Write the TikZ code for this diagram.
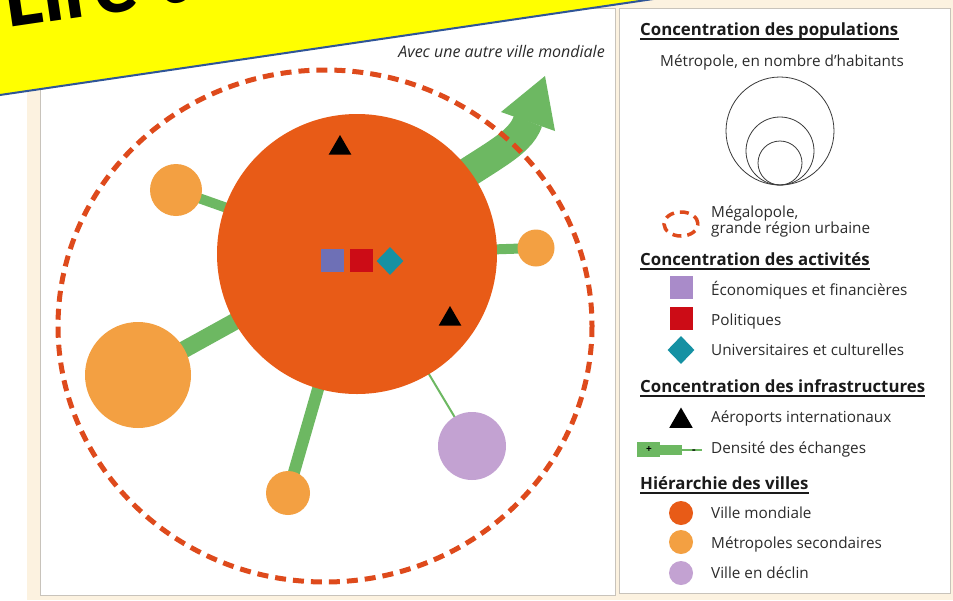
\documentclass[tikz,border=0pt]{standalone}
\usepackage{fontspec}
\setmainfont{Open Sans}
\newfontfamily\bannerfont{Carlito}
\usetikzlibrary{shapes.geometric}
\pgfdeclarelayer{bg}
\pgfdeclarelayer{back}
\pgfsetlayers{bg,back,main}
\definecolor{cream}{HTML}{FCF2E0}
\definecolor{panelline}{HTML}{C8C3BB}
\definecolor{mondial}{HTML}{E85B17}
\definecolor{megared}{HTML}{DE4A1C}
\definecolor{secorange}{HTML}{F3A042}
\definecolor{declin}{HTML}{C3A2D2}
\definecolor{linkgreen}{HTML}{6DB862}
\definecolor{ecoblue}{HTML}{6E70B6}
\definecolor{polred}{HTML}{CC0C16}
\definecolor{tealc}{HTML}{1591A3}
\definecolor{ecolegend}{HTML}{A98BC9}
\definecolor{textgray}{HTML}{2B2B2B}
\definecolor{titleblack}{HTML}{1A1A1A}
\definecolor{circgray}{HTML}{3A3A3A}
\definecolor{bannerblue}{HTML}{2F5597}
\definecolor{banneryellow}{HTML}{FFFF00}
\tikzset{
  city/.style={circle, inner sep=0pt, draw=none},
  mondiale/.style={city, fill=mondial},
  secondaire/.style={city, fill=secorange},
  declinstyle/.style={city, fill=declin},
  link/.style={draw=linkgreen, line cap=butt},
  legtext/.style={anchor=base west, inner sep=0pt, font=\fontsize{15.3}{17}\selectfont, text=textgray},
  legtitle/.style={anchor=base west, inner sep=0pt, font=\fontsize{16.8}{19}\selectfont\bfseries, text=titleblack},
  ul/.style={draw=titleblack, line width=1.2pt},
  airport/.style={regular polygon, regular polygon sides=3, fill=black, inner sep=0pt, minimum size=26pt},
  sq/.style={rectangle, inner sep=0pt, minimum size=23pt},
  dia/.style={diamond, inner sep=0pt, minimum width=27pt, minimum height=28pt, fill=tealc},
  megadash/.style={draw=megared, dash pattern=on 11pt off 7pt, line width=5pt},
}
\begin{document}
\begin{tikzpicture}[x=1pt,y=-1pt]
\useasboundingbox (0,0) rectangle (953,600);
\begin{pgfonlayer}{bg}
\fill[white] (0,0) rectangle (953,600);
\fill[cream] (27,0) rectangle (953,600);
\draw[panelline, fill=white, line width=0.8pt] (40,8) rectangle (615,595);
\draw[panelline, fill=white, line width=0.8pt] (619,8) rectangle (950,593);
\end{pgfonlayer}

% cities
\node[mondiale, minimum size=280pt] (main) at (357,254) {};
\node[secondaire, minimum size=52pt] (s1) at (176,190) {};
\node[secondaire, minimum size=37pt] (s2) at (536,248) {};
\node[secondaire, minimum size=106pt] (s3) at (138,375) {};
\node[secondaire, minimum size=44pt] (s4) at (288,493) {};
\node[declinstyle, minimum size=68pt] (d1) at (472,446) {};

\coordinate (arrowstart) at (440,192);
\coordinate (arrowbase) at (528,121);
\coordinate (arrowtip) at (545,76);
\coordinate (barbl) at (501,112);
\coordinate (barbr) at (555,131);

\begin{pgfonlayer}{back}
\draw[link, line width=10pt] (main.center) -- (s1.center);
\draw[link, line width=10pt] (main.center) -- (s2.center);
\draw[link, line width=17pt] (main.center) -- (s3.center);
\draw[link, line width=12pt] (main.center) -- (s4.center);
\draw[link, line width=2pt] (main.center) -- (d1.center);
\draw[linkgreen, line width=30pt] (arrowstart) .. controls (482,160) and (520,146) .. (arrowbase);
\fill[linkgreen] (barbl) -- (arrowtip) -- (barbr) -- cycle;
\end{pgfonlayer}

% activity symbols
\node[sq, fill=ecoblue] (eco) at (332,260) {};
\node[sq, fill=polred] (pol) at (361,260) {};
\node[dia] (uni) at (390,261) {};
\node[airport] (a1) at (340,148) {};
\node[airport] (a2) at (450,319) {};

% megalopolis
\draw[megadash] (325,326) ellipse [x radius=267, y radius=256];

\node[anchor=base east, inner sep=0pt, font=\fontsize{16}{18}\selectfont\itshape, text=textgray] (avec) at (605,57) {Avec une autre ville mondiale};

% legend
\node[legtitle] (t1) at (640,35) {Concentration des populations};
\draw[ul] ([yshift=-4pt]t1.base west) -- ([yshift=-4pt]t1.base east);
\node[legtext, anchor=base] (pop) at (782,66) {Métropole, en nombre d'habitants};
\draw[circgray, line width=0.8pt] (780,131) circle [radius=54];
\draw[circgray, line width=0.8pt] (780,151) circle [radius=34];
\draw[circgray, line width=0.8pt] (780,163) circle [radius=22];
\node[ellipse, draw=megared, line width=3.5pt, dash pattern=on 9pt off 6pt, minimum width=34pt, minimum height=24pt, inner sep=0pt] (lg-mega) at (681,224) {};
\node[legtext] (mega1) at (711,217) {Mégalopole,};
\node[legtext] (mega2) at (711,233) {grande région urbaine};

\node[legtitle] (t2) at (640,265) {Concentration des activités};
\draw[ul] ([yshift=-4pt]t2.base west) -- ([yshift=-4pt]t2.base east);
\node[sq, fill=ecolegend] (lg-eco) at (681,287) {};
\node[legtext] (eco-t) at (711,295) {Économiques et financières};
\node[sq, fill=polred] (lg-pol) at (681,318) {};
\node[legtext] (pol-t) at (711,325) {Politiques};
\node[dia] (lg-uni) at (681,350) {};
\node[legtext] (uni-t) at (711,355) {Universitaires et culturelles};

\node[legtitle] (t3) at (640,392) {Concentration des infrastructures};
\draw[ul] ([yshift=-4pt]t3.base west) -- ([yshift=-4pt]t3.base east);
\node[airport, minimum size=27pt] (lg-air) at (681,421) {};
\node[legtext] (air-t) at (711,422) {Aéroports internationaux};
\fill[linkgreen] (637,442) rectangle (660,457);
\fill[linkgreen] (660,444.5) rectangle (682,455);
\draw[linkgreen, line width=2pt] (682,450) -- (702,450);
\node[inner sep=0pt, font=\fontsize{10}{10}\selectfont\bfseries] (plus) at (649,449.5) {+};
\node[inner sep=0pt, font=\fontsize{11}{11}\selectfont\bfseries] (minus) at (694,451.5) {-};
\node[legtext] (dens-t) at (711,453) {Densité des échanges};

\node[legtitle] (t4) at (640,489) {Hiérarchie des villes};
\draw[ul] ([yshift=-4pt]t4.base west) -- ([yshift=-4pt]t4.base east);
\node[mondiale, minimum size=24pt] (lg-mond) at (681,513) {};
\node[legtext] (mond-t) at (711,518) {Ville mondiale};
\node[secondaire, minimum size=24pt] (lg-sec) at (681,542) {};
\node[legtext] (sec-t) at (711,548) {Métropoles secondaires};
\node[declinstyle, minimum size=24pt] (lg-dec) at (681,573) {};
\node[legtext] (dec-t) at (711,578) {Ville en déclin};

% banner
\fill[banneryellow] (-30,99.4) -- (720,-10.8) -- (720,-300) -- (-30,-300) -- cycle;
\draw[bannerblue, line width=2pt] (-30,99.4) -- (720,-10.8);
\node[anchor=base west, rotate=8.36, inner sep=0pt, font=\bannerfont\bfseries\fontsize{88}{94}\selectfont] (banner) at (8,28) {Lire un};
\end{tikzpicture}
\end{document}
